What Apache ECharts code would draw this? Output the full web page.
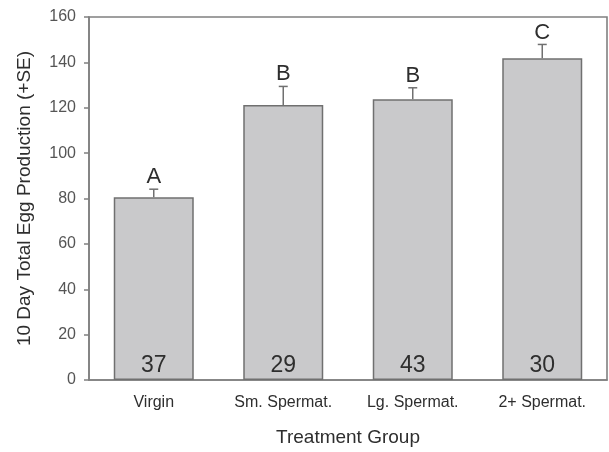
<!DOCTYPE html>
<html>
<head>
<meta charset="utf-8">
<script src="https://cdn.jsdelivr.net/npm/echarts@6/dist/echarts.min.js"></script>
<style>
html,body{margin:0;padding:0;background:#fff;}
#chart{width:609px;height:452px;}
</style>
</head>
<body>
<div id="chart"></div>
<script>
// Treatment groups and their mean 10-day egg production
const categories = ['Virgin', 'Sm. Spermat.', 'Lg. Spermat.', '2+ Spermat.'];
const means = [80.5, 121.2, 123.8, 141.8];
const stdErrors = [3.6, 8.2, 5.0, 6.1];
const groupLetters = ['A', 'B', 'B', 'C'];
const sampleSizes = [37, 29, 43, 30];
const yTicks = [0, 20, 40, 60, 80, 100, 120, 140, 160];

const chart = echarts.init(document.getElementById('chart'));
const textColor = '#2e2e2e';
const axisColor = '#808080';

chart.setOption({
  animation: false,
  backgroundColor: '#ffffff',
  grid: {
    left: 89, right: 2, top: 17, bottom: 72,
    outerBoundsMode: 'none',
    containLabel: false,
    show: true, borderColor: axisColor, borderWidth: 1.6, backgroundColor: 'transparent'
  },
  xAxis: {
    type: 'category',
    data: categories,
    name: 'Treatment Group',
    nameLocation: 'middle',
    nameGap: 48,
    nameTextStyle: { fontFamily: 'Liberation Sans', fontSize: 19, color: textColor },
    axisLine: { lineStyle: { color: axisColor, width: 1.6 } },
    axisTick: { alignWithLabel: true, length: 5, lineStyle: { color: axisColor, width: 1.5 } },
    axisLabel: { fontFamily: 'Liberation Sans', fontSize: 16, color: textColor, margin: 15 }
  },
  yAxis: {
    type: 'value',
    min: yTicks[0],
    max: yTicks[yTicks.length - 1],
    interval: yTicks[1] - yTicks[0],
    name: '10 Day Total Egg Production (+SE)',
    nameLocation: 'middle',
    nameGap: 55,
    nameTextStyle: { fontFamily: 'Liberation Sans', fontSize: 19, color: textColor },
    splitLine: { show: false },
    axisLine: { show: true, lineStyle: { color: axisColor, width: 1.6 } },
    axisTick: { show: true, length: 5, lineStyle: { color: axisColor, width: 1.5 } },
    axisLabel: { fontFamily: 'Liberation Sans', fontSize: 16, color: '#555', margin: 13 }
  },
  series: [
    {
      type: 'bar',
      data: means,
      barWidth: 80,
      itemStyle: { color: '#c9c9cb', borderColor: '#707070', borderWidth: 1.5 },
      label: {
        show: true,
        position: 'insideBottom',
        distance: 3,
        formatter: p => String(sampleSizes[p.dataIndex]),
        fontFamily: 'Liberation Sans', fontSize: 23, color: textColor
      },
      z: 2
    },
    {
      // Upper standard-error whisker with its cap, plus the significance letter
      type: 'custom',
      data: means.map((m, i) => [i, m, m + stdErrors[i]]),
      renderItem: function (params, api) {
        const base = api.coord([api.value(0), api.value(1)]);
        const top = api.coord([api.value(0), api.value(2)]);
        const half = 4.5;
        const style = { stroke: '#707070', lineWidth: 1.5 };
        return {
          type: 'group',
          children: [
            { type: 'line', shape: { x1: base[0], y1: base[1], x2: top[0], y2: top[1] }, style: style },
            { type: 'line', shape: { x1: top[0] - half, y1: top[1], x2: top[0] + half, y2: top[1] }, style: style },
            {
              type: 'text',
              style: {
                text: groupLetters[params.dataIndex],
                x: top[0], y: top[1] - 1,
                align: 'center', verticalAlign: 'bottom',
                fontFamily: 'Liberation Sans', fontSize: 22, fill: textColor
              }
            }
          ]
        };
      },
      z: 3
    }
  ]
});
</script>
</body>
</html>
